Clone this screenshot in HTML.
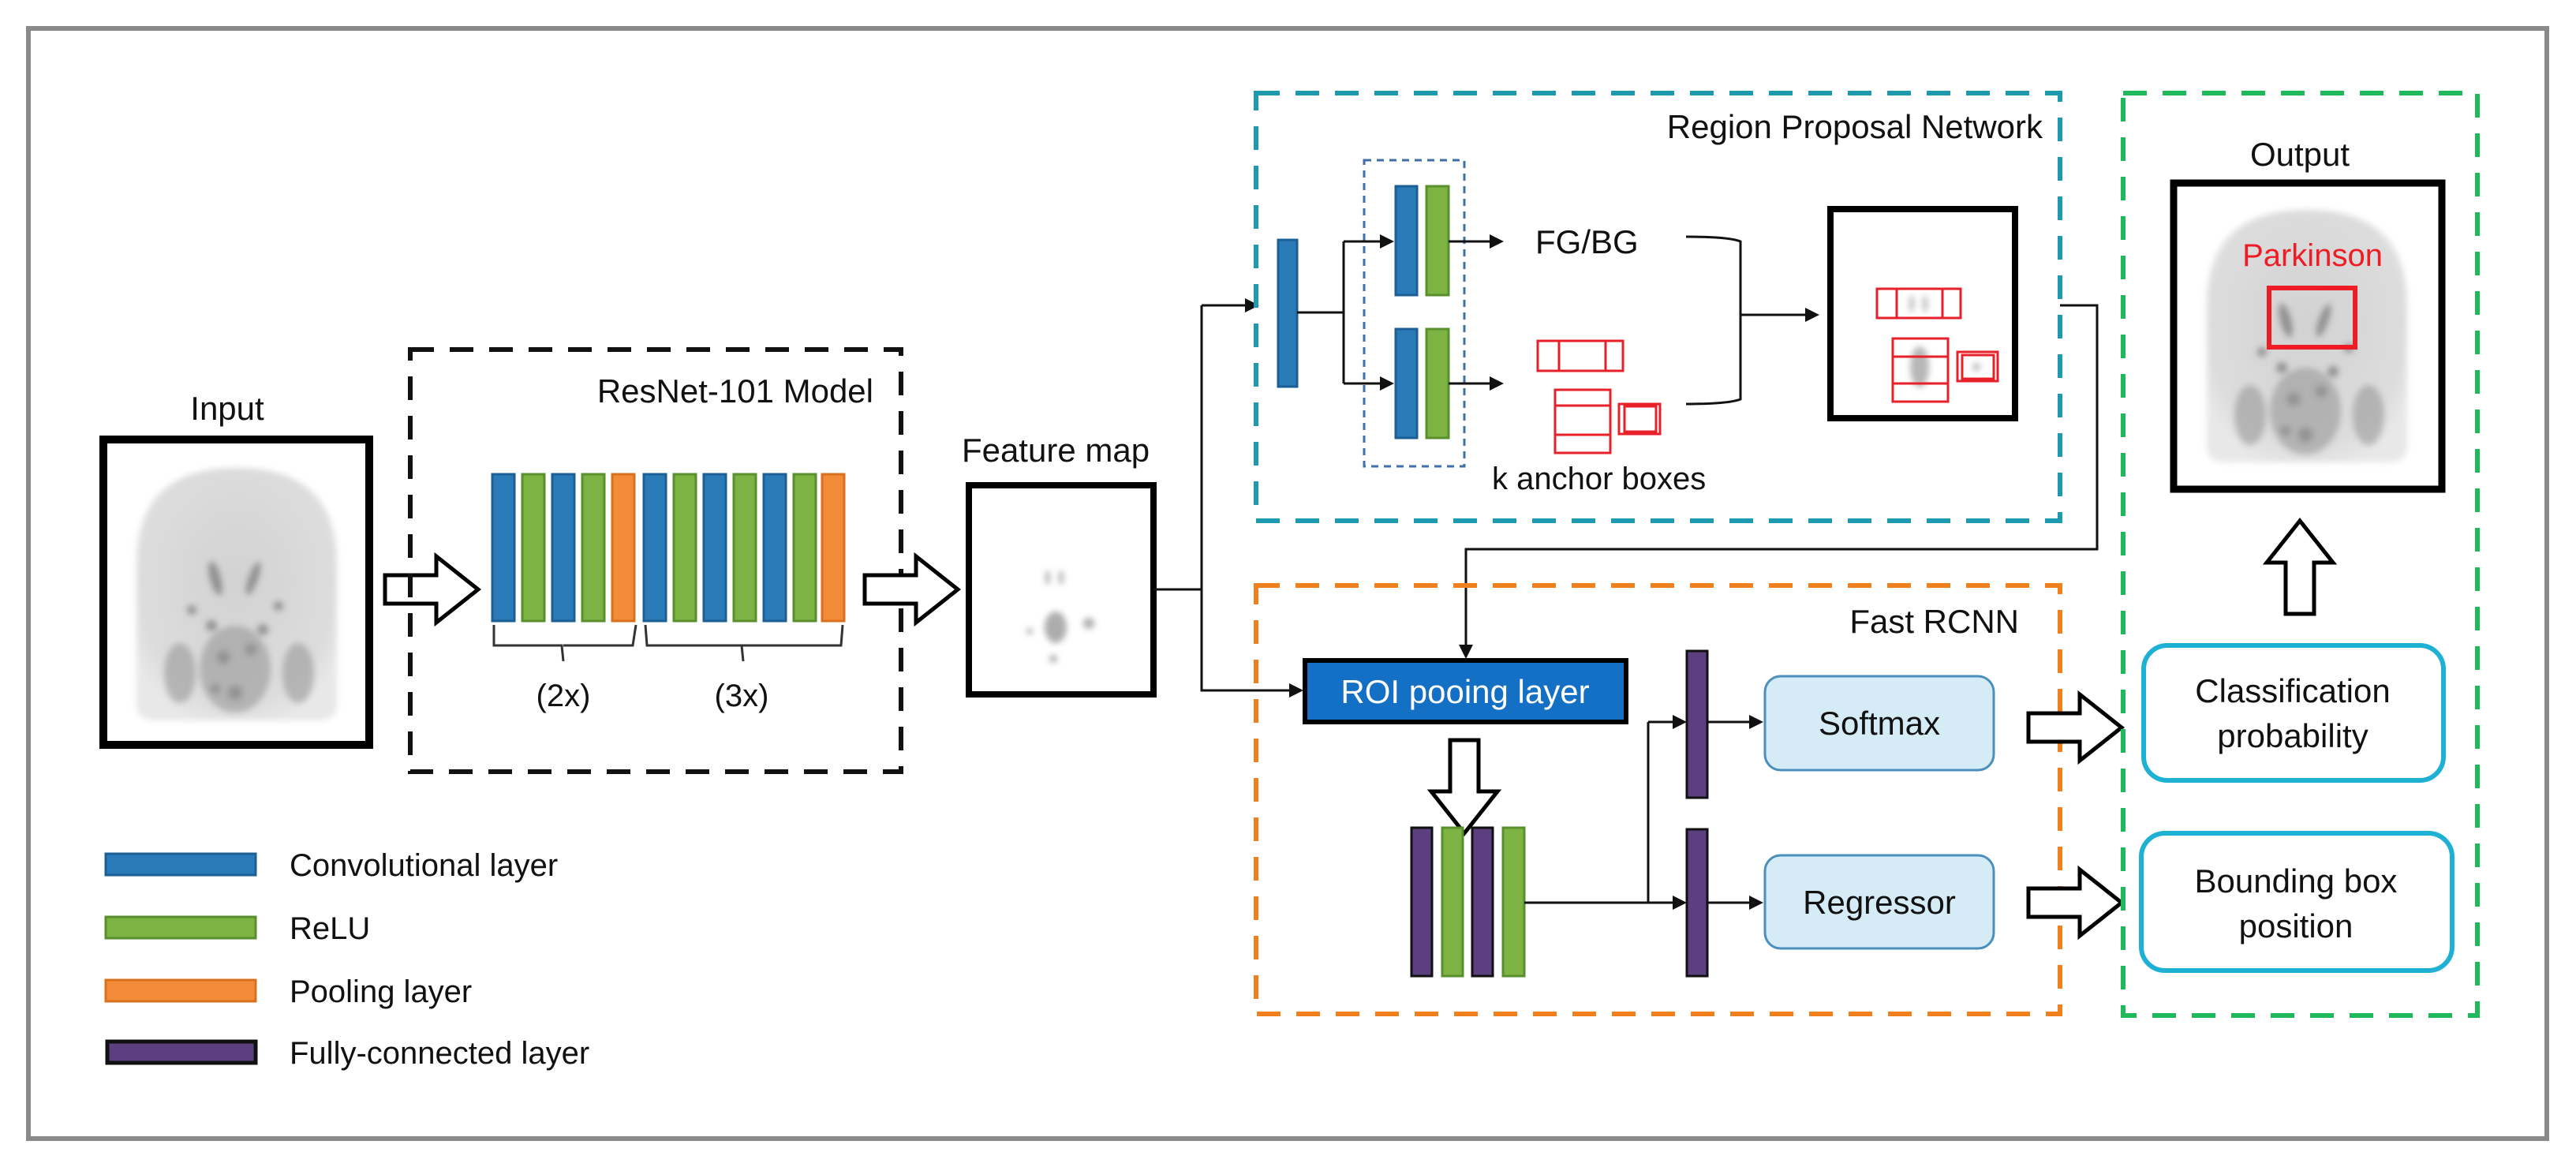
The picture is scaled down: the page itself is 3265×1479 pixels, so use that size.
<!DOCTYPE html>
<html><head><meta charset="utf-8"><style>
html,body{margin:0;padding:0;background:#fff;}
svg{display:block;}
text{font-family:"Liberation Sans",Arial,sans-serif;fill:#111;}
</style></head><body>
<svg width="3265" height="1479" viewBox="0 0 3265 1479" xmlns="http://www.w3.org/2000/svg">
<defs>
<radialGradient id="bg" cx="0.5" cy="0.45" r="0.6">
<stop offset="0" stop-color="#d2d2d2"/><stop offset="0.8" stop-color="#dcdcdc"/><stop offset="1" stop-color="#e8e8e8"/>
</radialGradient>
<filter id="bl"><feGaussianBlur stdDeviation="4"/></filter>
<g id="brain">
<path d="M0,120 Q0,0 127,0 Q254,0 254,120 L254,300 Q254,320 230,320 L24,320 Q0,320 0,300 Z" fill="url(#bg)" filter="url(#bl)"/>
<g fill="#666" filter="url(#bl)" opacity="0.6">
<ellipse cx="100" cy="140" rx="7" ry="22" transform="rotate(-15 100 140)"/>
<ellipse cx="148" cy="140" rx="6" ry="22" transform="rotate(20 148 140)"/>
<ellipse cx="55" cy="260" rx="20" ry="38" fill="#999"/>
<ellipse cx="205" cy="260" rx="20" ry="38" fill="#999"/>
<ellipse cx="125" cy="255" rx="45" ry="55" fill="#999"/>
<circle cx="110" cy="240" r="9"/><circle cx="145" cy="230" r="8"/><circle cx="125" cy="285" r="10"/><circle cx="100" cy="280" r="7"/>
<circle cx="95" cy="200" r="7"/><circle cx="160" cy="205" r="7"/><circle cx="70" cy="180" r="6"/><circle cx="180" cy="175" r="6"/>
</g>
</g>
<g id="hr"><path d="M0,-18 L65,-18 L65,-42 L118,0 L65,42 L65,18 L0,18 Z" fill="#fff" stroke="#000" stroke-width="5" stroke-linejoin="miter"/></g>
</defs>

<rect x="36" y="36" width="3192" height="1407" fill="none" stroke="#8a8a8a" stroke-width="6"/>

<text x="288" y="532" font-size="42" text-anchor="middle">Input</text>
<use href="#brain" x="173" y="593"/>
<rect x="131" y="557" width="337" height="387" fill="none" stroke="#000" stroke-width="10"/>
<use href="#hr" x="488" y="747"/>

<rect x="520" y="443" width="622" height="535" fill="none" stroke="#111" stroke-width="6" stroke-dasharray="30,20"/>
<text x="1107" y="510" font-size="42" text-anchor="end">ResNet-101 Model</text>
<g stroke-width="3">
<rect x="624" y="601" width="28" height="186" fill="#2a7ab8" stroke="#1c5f94"/>
<rect x="662" y="601" width="28" height="186" fill="#7cb342" stroke="#5a8f2e"/>
<rect x="700" y="601" width="28" height="186" fill="#2a7ab8" stroke="#1c5f94"/>
<rect x="738" y="601" width="28" height="186" fill="#7cb342" stroke="#5a8f2e"/>
<rect x="776" y="601" width="28" height="186" fill="#f28c38" stroke="#d9701d"/>
<rect x="816" y="601" width="28" height="186" fill="#2a7ab8" stroke="#1c5f94"/>
<rect x="854" y="601" width="28" height="186" fill="#7cb342" stroke="#5a8f2e"/>
<rect x="892" y="601" width="28" height="186" fill="#2a7ab8" stroke="#1c5f94"/>
<rect x="930" y="601" width="28" height="186" fill="#7cb342" stroke="#5a8f2e"/>
<rect x="968" y="601" width="28" height="186" fill="#2a7ab8" stroke="#1c5f94"/>
<rect x="1006" y="601" width="28" height="186" fill="#7cb342" stroke="#5a8f2e"/>
<rect x="1042" y="601" width="28" height="186" fill="#f28c38" stroke="#d9701d"/>
</g>
<path d="M626,792 L626,818 L712,818 L714,838 M714,818 L802,818 L806,792" fill="none" stroke="#333" stroke-width="3"/>
<path d="M818,792 L820,818 L940,818 L942,838 M940,818 L1066,818 L1068,792" fill="none" stroke="#333" stroke-width="3"/>
<text x="714" y="895" font-size="40" text-anchor="middle">(2x)</text>
<text x="940" y="895" font-size="40" text-anchor="middle">(3x)</text>
<use href="#hr" x="1096" y="747"/>

<text x="1338" y="585" font-size="42" text-anchor="middle">Feature map</text>
<rect x="1228" y="615" width="234" height="265" fill="#fff" stroke="#000" stroke-width="8"/>
<g fill="#999" filter="url(#bl)" opacity="0.8">
<ellipse cx="1328" cy="732" rx="3" ry="9"/><ellipse cx="1345" cy="732" rx="3" ry="9"/>
<ellipse cx="1338" cy="795" rx="14" ry="20"/><circle cx="1305" cy="800" r="4"/><circle cx="1380" cy="790" r="7"/><circle cx="1335" cy="835" r="5"/>
</g>

<g stroke="#111" stroke-width="3" fill="none">
<path d="M1462,747 L1523,747 M1523,387 L1523,875 L1640,875"/>
<path d="M1523,387 L1580,387"/>
</g>
<path d="M1596,387 L1578,378 L1578,396 Z" fill="#111"/>
<path d="M1652,875 L1634,866 L1634,884 Z" fill="#111"/>

<rect x="1592" y="118" width="1019" height="542" fill="none" stroke="#1e9ab0" stroke-width="6" stroke-dasharray="30,20"/>
<text x="2589" y="175" font-size="42" text-anchor="end">Region Proposal Network</text>
<rect x="1620" y="304" width="24" height="186" fill="#2a7ab8" stroke="#1c5f94" stroke-width="3"/>
<rect x="1729" y="203" width="127" height="388" fill="none" stroke="#3f6fa8" stroke-width="3" stroke-dasharray="9,7"/>
<g stroke-width="3">
<rect x="1769" y="236" width="27" height="138" fill="#2a7ab8" stroke="#1c5f94"/>
<rect x="1808" y="236" width="28" height="138" fill="#7cb342" stroke="#5a8f2e"/>
<rect x="1769" y="417" width="27" height="138" fill="#2a7ab8" stroke="#1c5f94"/>
<rect x="1808" y="417" width="28" height="138" fill="#7cb342" stroke="#5a8f2e"/>
</g>
<g stroke="#111" stroke-width="3" fill="none">
<path d="M1644,396 L1703,396 M1703,306 L1703,486 M1703,306 L1752,306 M1703,486 L1752,486"/>
<path d="M1836,306 L1890,306 M1836,486 L1890,486"/>
<path d="M2137,300 Q2190,300 2206,306 L2206,506 Q2190,512 2137,512 M2206,399 L2290,399"/>
</g>
<g fill="#111">
<path d="M1767,306 L1749,297 L1749,315 Z"/><path d="M1767,486 L1749,477 L1749,495 Z"/>
<path d="M1906,306 L1888,297 L1888,315 Z"/><path d="M1906,486 L1888,477 L1888,495 Z"/>
<path d="M2306,399 L2288,390 L2288,408 Z"/>
</g>
<text x="1946" y="321" font-size="42">FG/BG</text>
<g fill="none" stroke="#e8202a" stroke-width="3">
<rect x="1949" y="432" width="108" height="38"/><line x1="1976" y1="432" x2="1976" y2="470"/><line x1="2035" y1="432" x2="2035" y2="470"/>
<rect x="1971" y="494" width="70" height="80"/><line x1="1971" y1="514" x2="2041" y2="514"/><line x1="1971" y1="551" x2="2041" y2="551"/>
<rect x="2052" y="512" width="52" height="38"/><rect x="2059" y="515" width="40" height="32"/>
</g>
<text x="1891" y="620" font-size="40">k anchor boxes</text>
<rect x="2320" y="265" width="234" height="265" fill="#fff" stroke="#000" stroke-width="8"/>
<g fill="#999" filter="url(#bl)" opacity="0.7">
<ellipse cx="2423" cy="385" rx="3" ry="11"/><ellipse cx="2440" cy="385" rx="3" ry="11"/>
<ellipse cx="2433" cy="465" rx="12" ry="26"/><circle cx="2505" cy="465" r="5"/>
</g>
<g fill="none" stroke="#e8202a" stroke-width="3">
<rect x="2379" y="366" width="106" height="37"/><line x1="2404" y1="366" x2="2404" y2="403"/><line x1="2462" y1="366" x2="2462" y2="403"/>
<rect x="2399" y="429" width="70" height="80"/><line x1="2399" y1="452" x2="2469" y2="452"/><line x1="2399" y1="486" x2="2469" y2="486"/>
<rect x="2481" y="446" width="51" height="37"/><rect x="2487" y="450" width="40" height="30"/>
</g>

<path d="M2611,387 L2658,387 L2658,696 L1858,696 L1858,818" fill="none" stroke="#111" stroke-width="3"/>
<path d="M1858,835 L1849,817 L1867,817 Z" fill="#111"/>

<rect x="1592" y="742" width="1019" height="543" fill="none" stroke="#f07f1d" stroke-width="6" stroke-dasharray="30,20"/>
<text x="2559" y="802" font-size="42" text-anchor="end">Fast RCNN</text>
<rect x="1654" y="837" width="407" height="78" fill="#1470c4" stroke="#000" stroke-width="6"/>
<text x="1857" y="891" font-size="42" text-anchor="middle" style="fill:#fff">ROI pooing layer</text>
<g transform="translate(1856,938) rotate(90)"><use href="#hr" x="0" y="0"/></g>
<g stroke-width="3">
<rect x="1789" y="1049" width="26" height="188" fill="#5b3f7e" stroke="#111"/>
<rect x="1828" y="1049" width="26" height="188" fill="#7cb342" stroke="#5a8f2e"/>
<rect x="1866" y="1049" width="26" height="188" fill="#5b3f7e" stroke="#111"/>
<rect x="1905" y="1049" width="27" height="188" fill="#7cb342" stroke="#5a8f2e"/>
<rect x="2138" y="825" width="26" height="186" fill="#5b3f7e" stroke="#111"/>
<rect x="2138" y="1051" width="26" height="186" fill="#5b3f7e" stroke="#111"/>
</g>
<g stroke="#111" stroke-width="3" fill="none">
<path d="M1932,1144 L2122,1144 M2089,915 L2089,1144 M2089,915 L2122,915"/>
<path d="M2164,915 L2218,915 M2164,1144 L2218,1144"/>
</g>
<g fill="#111">
<path d="M2138,915 L2120,906 L2120,924 Z"/><path d="M2138,1144 L2120,1135 L2120,1153 Z"/>
<path d="M2235,915 L2217,906 L2217,924 Z"/><path d="M2235,1144 L2217,1135 L2217,1153 Z"/>
</g>
<rect x="2237" y="857" width="290" height="119" rx="20" fill="#d5ebf6" stroke="#4a8fbd" stroke-width="3"/>
<text x="2382" y="931" font-size="42" text-anchor="middle">Softmax</text>
<rect x="2237" y="1084" width="290" height="118" rx="20" fill="#d5ebf6" stroke="#4a8fbd" stroke-width="3"/>
<text x="2382" y="1158" font-size="42" text-anchor="middle">Regressor</text>
<use href="#hr" x="2571" y="922"/>
<use href="#hr" x="2571" y="1144"/>

<rect x="2691" y="118" width="449" height="1169" fill="none" stroke="#1fb85a" stroke-width="6" stroke-dasharray="30,20"/>
<text x="2915" y="210" font-size="42" text-anchor="middle">Output</text>
<use href="#brain" x="2797" y="266"/>
<rect x="2755" y="232" width="340" height="388" fill="none" stroke="#000" stroke-width="9"/>
<text x="2931" y="337" font-size="40" text-anchor="middle" style="fill:#ee1c25">Parkinson</text>
<rect x="2876" y="365" width="109" height="75" fill="none" stroke="#ee1c25" stroke-width="6"/>
<g transform="translate(2915,778) rotate(-90)"><use href="#hr" x="0" y="0"/></g>
<rect x="2717" y="818" width="380" height="171" rx="30" fill="#fff" stroke="#1fb1d3" stroke-width="6"/>
<text x="2906" y="890" font-size="42" text-anchor="middle">Classification</text>
<text x="2906" y="947" font-size="42" text-anchor="middle">probability</text>
<rect x="2714" y="1056" width="394" height="174" rx="30" fill="#fff" stroke="#1fb1d3" stroke-width="6"/>
<text x="2910" y="1131" font-size="42" text-anchor="middle">Bounding box</text>
<text x="2910" y="1188" font-size="42" text-anchor="middle">position</text>

<rect x="134" y="1082" width="190" height="27" fill="#2a7ab8" stroke="#1c5f94" stroke-width="3"/>
<rect x="134" y="1162" width="190" height="27" fill="#7cb342" stroke="#5a8f2e" stroke-width="3"/>
<rect x="134" y="1242" width="190" height="27" fill="#f28c38" stroke="#d9701d" stroke-width="3"/>
<rect x="136" y="1320" width="188" height="27" fill="#5b3f7e" stroke="#111" stroke-width="5"/>
<text x="367" y="1110" font-size="40">Convolutional layer</text>
<text x="367" y="1190" font-size="40">ReLU</text>
<text x="367" y="1270" font-size="40">Pooling layer</text>
<text x="367" y="1348" font-size="40">Fully-connected layer</text>
</svg>
</body></html>
